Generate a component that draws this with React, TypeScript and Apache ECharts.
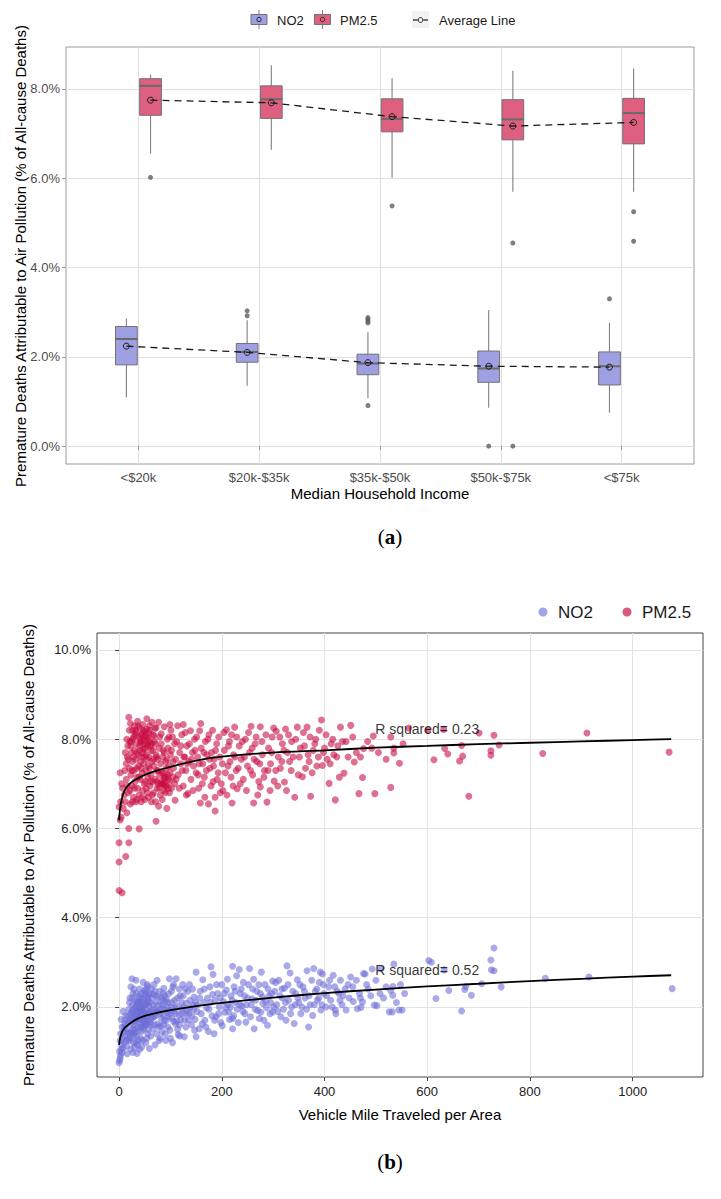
import React, { useEffect, useRef } from 'react';
import * as echarts from 'echarts';

// ---------- Panel (a): box plots by income ----------
const incomeGroups = ['<$20k', '$20k-$35k', '$35k-$50k', '$50k-$75k', '<$75k'];
// [lower whisker, Q1, median, Q3, upper whisker] in %
const no2Box = [
  [1.09, 1.82, 2.40, 2.68, 2.86],
  [1.35, 1.88, 2.11, 2.30, 2.82],
  [1.07, 1.60, 1.85, 2.06, 2.55],
  [0.86, 1.43, 1.74, 2.13, 3.05],
  [0.75, 1.37, 1.79, 2.11, 2.76],
];
const pm25Box = [
  [6.55, 7.41, 8.07, 8.23, 8.32],
  [6.64, 7.34, 7.77, 8.07, 8.53],
  [6.01, 7.04, 7.33, 7.78, 8.24],
  [5.70, 6.86, 7.32, 7.76, 8.41],
  [5.70, 6.77, 7.46, 7.79, 8.46],
];
const no2Mean = [2.24, 2.10, 1.87, 1.79, 1.77];
const pm25Mean = [7.75, 7.69, 7.38, 7.17, 7.25];
// [group index, value]
const no2Outliers = [[1, 3.03], [1, 2.92], [2, 2.88], [2, 2.84], [2, 2.80], [2, 2.76], [2, 0.91], [3, 0.0], [4, 3.30]];
const pm25Outliers = [[0, 6.02], [2, 5.38], [3, 4.55], [3, 0.0], [4, 5.25], [4, 4.59]];
const yTicksA = [0, 2, 4, 6, 8];

// ---------- Panel (b): scatter vs VMT ----------
const no2Points = [
  [0,0.75],[1,0.8],[2,0.85],[3,0.92],[1,1.0],[4,1.05],[6,0.98],[8,1.08],[5,1.15],[2,1.25],[7,1.3],[10,1.2],[3,1.4],[9,1.45],[12,1.35],[6,1.55],[11,1.62],[14,1.5],[4,1.72],[13,1.8],[8,1.9],[15,1.12],[16,0.95],[18,1.28],
  [20,1.42],[22,1.6],[24,1.75],[25,1.9],[26,2.05],[27,1.5],[28,1.2],[30,1.68],[31,1.85],[32,2.15],[33,2.3],[34,1.35],[35,0.96],[36,1.55],[37,1.78],[38,1.95],[39,2.25],[40,2.4],[41,1.62],[42,1.88],[43,2.05],[44,1.45],[45,1.72],[46,1.25],[47,2.0],[48,2.18],[49,1.82],[50,1.58],[51,2.32],[52,1.95],[53,1.7],[54,2.1],[55,2.5],[56,1.4],[57,1.85],[58,2.02],[59,1.07],[60,1.65],
  [21,2.2],[23,2.45],[25,2.63],[29,2.4],[33,2.6],[38,2.1],[44,2.3],[47,2.55],[52,2.4],[56,2.45],[58,2.28],[36,1.15],[42,1.3],[48,1.5],[54,1.3],[30,1.1],[40,1.05],
  [17,1.65],[19,1.95],[20,2.1],[22,1.3],[24,1.45],[26,1.7],[27,2.3],[28,1.85],[29,1.6],[31,1.42],[32,1.75],[34,2.0],[35,1.82],[37,2.12],[39,1.72],[41,1.92],[43,1.58],[45,2.18],[46,1.9],[49,1.65],[50,2.05],[51,1.78],[53,2.25],[55,1.62],[57,2.15],[59,1.88],
  [23,1.05],[27,0.98],[33,1.2],[38,1.25],[44,1.1],[52,1.2],[62,1.35],[70,1.15],[80,1.3],[90,1.4],[100,1.3],[118,1.35],
  [10,1.55],[12,1.7],[14,1.25],[16,1.42],[18,1.8],[20,1.25],[21,1.7],[23,1.85],[25,1.4],[26,2.2],[28,1.95],[29,1.35],[31,2.0],[32,1.5],[34,1.7],[35,2.1],[36,1.9],[37,1.45],[39,2.0],[40,1.75],[41,2.2],[43,1.85],[44,1.95],[45,1.55],[46,2.1],[48,1.72],[49,2.35],[50,1.88],[52,1.62],[53,2.05],[55,1.78],[56,2.2],[57,1.5],[59,2.1],[60,2.3],[62,1.6],[64,1.75],[66,1.95],[68,2.5],[70,1.8],[72,2.25],[75,1.9],[77,1.55],[79,2.35],[82,1.75],[84,2.15],[87,1.6],[89,2.25],[92,1.7],[95,2.1],[98,1.85],[103,2.1],[106,2.5],[110,1.85],[114,1.5],[117,2.4],[120,1.72],[125,2.25],[130,1.85],[137,2.5],[142,1.8],[149,2.1],
  [61,1.72],[63,2.4],[65,1.82],[67,2.28],[69,1.6],[71,2.1],[73,1.88],[76,2.22],[79,1.92],[81,1.58],[83,2.05],[86,1.82],[89,1.95],[92,2.18],[96,1.78],[100,1.92],[102,2.35],[106,1.68],[109,1.98],[114,2.2],[118,1.6],[123,1.85],[126,2.0],[129,2.4],[135,1.7],[139,1.98],[144,2.05],[147,1.48],
  [62,1.9],[64,2.2],[66,1.5],[68,1.78],[70,2.35],[72,1.95],[74,2.6],[75,1.62],[77,2.05],[78,1.25],[80,1.85],[82,2.2],[84,1.45],[85,1.98],[87,2.42],[88,1.7],[90,2.12],[91,1.25],[93,1.88],[95,1.55],[97,2.3],[98,2.63],[99,1.48],[101,2.0],[103,1.75],[105,2.45],[107,1.9],[108,2.15],[110,1.62],[111,2.63],[113,2.02],[115,1.38],[117,1.82],[119,2.25],[121,1.95],[124,2.5],[127,1.33],[128,1.7],[130,1.55],[131,2.08],[134,2.35],[136,1.85],[138,2.15],[141,1.6],[143,2.4],[145,1.95],[148,1.72],[150,1.33],[150,2.78],[66,2.05],[73,1.4],[86,2.3],[94,2.0],[104,1.2],[112,1.68],[122,2.1],[133,1.92],[146,2.22],
  [153,2.05],[156,1.51],[158,2.35],[160,1.85],[163,2.61],[165,2.1],[167,1.7],[169,1.55],[172,2.2],[175,1.95],[177,2.45],[179,2.9],[181,1.8],[183,2.73],[185,1.4],[187,2.15],[189,1.78],[192,2.3],[195,2.0],[198,1.65],[200,2.5],[203,2.12],[206,1.88],[209,2.38],[212,2.05],[215,1.72],[218,2.25],[221,1.51],[221,1.74],[221,2.91],[224,2.45],[227,2.1],[230,1.95],[234,2.84],[236,2.3],[239,2.02],[242,2.55],[245,1.85],[247,1.66],[250,2.2],[254,2.86],[257,2.05],[260,2.4],[263,1.51],[266,2.15],[270,1.92],[273,1.74],[275,2.3],[277,2.78],[280,2.08],[284,2.5],[287,1.98],[289,1.59],[292,2.25],[295,2.1],[299,1.89],[299,2.58],
  [152,1.9],[157,2.2],[162,1.62],[166,2.4],[170,1.98],[174,1.45],[178,2.1],[182,2.28],[186,1.7],[190,2.5],[194,1.85],[197,2.2],[201,1.58],[205,2.3],[208,1.98],[211,2.62],[214,1.88],[217,2.0],[220,2.15],[223,1.8],[226,2.35],[229,2.7],[232,1.65],[235,2.05],[238,2.4],[241,1.9],[244,2.25],[248,2.05],[252,2.5],[256,1.78],[259,2.18],[262,2.62],[265,1.95],[268,2.35],[272,2.5],[276,1.88],[279,2.22],[282,1.7],[286,2.12],[290,2.4],[294,1.85],[297,2.3],
  [301,2.0],[305,2.55],[309,1.9],[313,2.25],[317,2.4],[320,1.95],[324,2.1],[329,2.5],[334,1.85],[338,2.35],[343,2.05],[348,2.2],[352,2.5],[356,2.0],[361,2.35],[365,1.95],[370,2.25],[375,2.6],[380,2.05],[385,2.4],[389,2.2],[395,2.05],[398,2.5],[404,2.25],[410,2.6],[415,2.0],[420,2.45],[428,2.3],[434,2.05],[440,2.4],[448,2.2],[455,2.45],[462,2.6],[470,2.2],[482,2.5],[490,2.25],[500,2.6],[520,2.45],[548,2.5],[556,2.3],
  [303,2.35],[307,2.05],[311,2.6],[315,1.78],[318,2.2],[322,2.42],[325,1.7],[327,2.92],[330,2.15],[333,2.76],[336,2.0],[341,1.63],[344,2.3],[347,2.61],[350,2.1],[354,1.85],[358,2.45],[362,2.2],[366,2.81],[369,1.55],[372,2.05],[377,1.81],[379,2.86],[382,2.35],[386,2.15],[390,2.55],[392,2.78],[393,1.93],[396,2.74],[399,2.3],[403,2.0],[408,2.45],[412,2.15],[417,2.71],[421,1.93],[422,1.85],[425,2.35],[430,2.15],[431,2.6],[436,2.25],[442,1.93],[446,2.5],[451,2.67],[456,2.12],[464,1.96],[468,2.3],[471,1.99],[474,2.11],[476,2.75],[479,2.74],[485,2.4],[493,2.85],[497,2.04],[502,2.03],[508,2.3],[510,2.86],[515,2.2],[526,1.89],[529,2.37],[532,1.89],[533,2.26],[533,2.46],[535,2.96],[540,2.1],[545,1.93],[551,1.93],
  [603,3.04],[608,3.0],[617,2.19],[633,2.83],[642,2.37],[667,1.91],[673,2.39],[675,2.46],[686,2.26],[706,2.52],[724,3.05],[725,2.83],[730,3.32],[730,2.81],[744,2.45],[830,2.64],[915,2.67],[1077,2.41],
];
const pm25Points = [
  [0,4.61],[6,4.56],[0,5.25],[0,5.68],[19,5.68],[13,5.37],[19,6.0],[39,5.99],[72,6.16],[0,6.48],[2,6.19],[4,6.25],[8,6.45],[3,6.6],[10,6.75],[5,7.0],[2,7.25],[7,6.9],[12,6.6],[15,6.35],[11,7.3],
  [19,8.49],[22,8.35],[26,8.2],[28,8.05],[30,8.3],[33,8.15],[36,8.4],[40,8.25],[43,8.1],[46,8.33],[50,8.18],[54,8.46],[57,8.0],[60,8.2],[64,8.38],[68,8.08],[72,8.25],[77,8.38],[82,8.12],[88,8.28],[94,8.0],[99,8.33],
  [14,7.1],[16,7.6],[17,7.85],[18,6.8],[20,7.35],[21,7.95],[22,6.55],[23,7.2],[24,7.7],[25,6.95],[26,7.5],[27,8.0],[28,6.7],[29,7.3],[30,7.75],[31,7.05],[32,7.55],[33,6.6],[34,7.9],[35,7.15],[36,6.9],[37,7.65],[38,7.4],[39,6.75],[40,7.85],[41,7.1],[42,7.5],[43,6.6],[44,7.95],[45,7.25],[46,6.85],[47,7.7],[48,7.45],[49,7.0],[50,6.65],[51,7.8],[52,7.3],[53,6.9],[54,7.55],[55,8.05],[56,7.15],[57,6.7],[58,7.6],[59,7.35],[60,6.95],[61,7.85],[62,7.2],[63,6.6],[64,7.5],[65,7.05],[66,7.75],[67,6.8],[68,7.4],[69,7.95],[70,7.1],[71,6.6],[72,7.65],[73,7.3],[74,6.9],[75,7.55],[76,7.0],[77,6.5],[78,7.8],[79,7.2],[80,6.75],[81,7.45],[82,7.9],[83,7.05],[84,6.65],[85,7.6],[86,7.25],[87,6.85],[88,7.7],[89,7.15],[90,6.95],[91,7.5],[92,7.35],[93,6.45],[95,7.8],[96,7.1],[97,7.4],[98,6.8],[100,7.65],
  [38,8.05],[42,7.92],[45,8.12],[48,7.98],[52,8.08],[55,7.85],[58,8.15],[47,7.78],[50,7.9],[53,8.22],[60,7.95],[85,7.0],[88,7.12],[92,6.95],[95,7.2],[98,7.05],[102,6.9],[105,7.15],[108,7.0],
  [24,7.95],[31,8.1],[35,7.7],[41,8.0],[44,7.6],[49,8.05],[56,7.9],[62,7.75],[66,8.1],[70,7.9],[74,7.05],[78,6.9],[83,7.25],[87,7.0],[91,7.15],[96,6.9],
  [12,7.7],[14,7.45],[15,8.0],[16,6.95],[18,7.55],[20,8.2],[21,6.85],[23,7.85],[25,7.3],[26,6.6],[28,7.6],[30,6.9],[32,8.2],[34,7.35],[35,6.65],[37,8.3],[39,7.15],[41,7.75],[43,7.35],[45,6.7],[47,8.2],[49,7.6],[51,7.05],[53,7.65],[55,6.8],[57,7.4],[59,8.3],[61,7.05],[63,7.9],[65,6.75],[67,7.55],[70,8.25],[73,7.6],[76,7.3],[79,8.05],[82,7.0],[86,7.75],[90,6.8],[93,7.55],[97,8.05],[99,7.25],
  [102,7.75],[104,8.05],[106,7.35],[109,6.63],[110,7.55],[112,7.95],[115,7.2],[118,7.7],[120,7.45],[122,8.1],[125,8.33],[125,6.95],[128,7.6],[130,7.3],[132,7.85],[134,6.78],[136,7.5],[139,8.19],[140,7.1],[143,7.7],[145,7.4],[147,8.0],[150,7.25],[153,7.6],[155,6.9],[157,8.19],[158,6.57],[160,7.8],[163,7.45],[166,7.15],[168,7.95],[171,7.65],[174,6.55],[175,8.1],[177,7.35],[180,7.7],[183,7.05],[185,7.55],[187,6.39],[187,6.7],[190,7.9],[193,7.25],[196,7.6],[199,7.0],
  [101,8.2],[105,7.5],[108,7.9],[111,7.1],[114,8.3],[117,6.9],[120,7.85],[123,7.3],[126,7.6],[129,8.15],[131,6.75],[133,7.45],[137,7.9],[141,7.55],[144,6.85],[148,7.75],[151,8.05],[154,7.2],[156,7.45],[159,8.35],[162,7.0],[165,7.7],[167,6.7],[170,7.3],[173,8.0],[176,7.55],[179,6.95],[182,8.2],[184,7.4],[188,7.75],[191,7.1],[194,8.05],[197,6.8],
  [201,7.45],[204,8.15],[207,7.25],[210,6.75],[213,7.85],[216,7.5],[219,8.1],[222,6.95],[226,7.6],[229,8.05],[232,7.35],[236,7.0],[240,7.95],[244,7.6],[248,6.85],[252,8.15],[256,7.3],[259,7.8],[263,7.55],[267,8.05],[270,6.75],[274,7.45],[278,7.95],[282,7.15],[286,8.1],[290,7.3],[294,6.85],[297,7.7],
  [301,8.25],[305,7.3],[309,6.95],[313,8.05],[317,7.5],[321,7.75],[326,6.85],[330,8.1],[335,7.3],[339,7.6],[344,8.0],[349,7.2],[353,7.8],[359,8.15],[363,7.35],[368,7.65],[372,8.05],[376,7.25],[381,7.9],[385,7.4],[390,8.2],[398,7.7],[403,8.1],[411,7.45],[416,8.0],[424,7.6],[429,7.15],[435,7.95],[446,7.6],[455,8.05],[470,7.6],[484,7.95],[505,7.7],[520,7.55],[553,7.9],
  [202,6.85],[205,7.75],[209,8.21],[212,7.4],[215,7.95],[218,7.15],[220,6.57],[223,7.65],[225,8.27],[228,7.3],[230,6.89],[234,7.85],[238,7.55],[242,7.1],[246,8.0],[250,7.4],[254,7.7],[257,8.29],[260,7.2],[262,6.57],[265,7.9],[268,7.5],[272,7.05],[275,8.28],[275,6.93],[279,7.65],[283,7.3],[288,6.59],[291,7.8],[295,7.45],[298,8.05],[302,7.06],[306,8.18],[310,7.6],[314,7.35],[318,7.9],[322,7.04],[324,8.23],[328,7.7],[332,7.5],[336,7.95],[342,6.7],[347,8.27],[351,7.6],[357,7.16],[361,7.85],[366,8.27],[370,7.5],[373,6.72],[378,7.75],[383,8.0],[388,7.6],[394,8.43],[396,7.41],[400,7.8],[405,7.55],[409,7.01],[413,7.9],[418,7.65],[421,6.64],[426,7.85],[431,8.27],[438,7.24],[442,7.95],[451,8.31],[458,7.49],[462,7.7],[467,6.78],
  [474,7.14],[476,7.79],[492,7.8],[495,8.07],[498,6.78],[529,8.05],[529,6.92],[535,7.8],[535,7.69],[546,7.46],[564,8.25],[601,8.2],[613,7.54],[632,8.22],[634,7.79],[640,7.67],[663,7.51],[667,7.86],[669,7.62],[681,6.72],[701,8.14],[724,7.74],[724,7.64],[730,8.09],[740,7.87],[825,7.68],[911,8.14],[1071,7.71],
];
const fitPm25 = [[0,6.18],[2,6.45],[5,6.65],[10,6.83],[20,7.0],[30,7.08],[50,7.2],[75,7.3],[100,7.38],[150,7.52],[200,7.61],[300,7.7],[400,7.75],[500,7.81],[600,7.85],[700,7.89],[800,7.92],[900,7.95],[1000,7.98],[1075,8.0]];
const fitNo2 = [[0,1.15],[2,1.3],[5,1.42],[10,1.52],[20,1.62],[30,1.7],[50,1.8],[75,1.87],[100,1.93],[150,2.02],[200,2.09],[300,2.21],[400,2.31],[500,2.39],[600,2.46],[700,2.52],[800,2.58],[900,2.63],[1000,2.68],[1075,2.71]];
const rSquaredLabels = [
  { x: 600, y: 8.22, text: 'R squared= 0.23' },
  { x: 600, y: 2.83, text: 'R squared= 0.52' },
];
const xTicksB = [0, 200, 400, 600, 800, 1000];
const yTicksB = [2, 4, 6, 8, 10];

const NO2_BOX = '#9f9fe3';
const PM_BOX = '#de5f7f';
const FONT = 'Liberation Sans, Arial, sans-serif';

function boxRenderer(fill: string) {
  return (params: any, api: any) => {
    const x = api.value(0);
    const lo = api.coord([x, api.value(1)]);
    const q1 = api.coord([x, api.value(2)]);
    const med = api.coord([x, api.value(3)]);
    const q3 = api.coord([x, api.value(4)]);
    const hi = api.coord([x, api.value(5)]);
    const hw = api.size([0.18, 0])[0] / 2;
    const cx = lo[0];
    return {
      type: 'group',
      children: [
        { type: 'line', shape: { x1: cx, y1: hi[1], x2: cx, y2: lo[1] }, style: { stroke: '#808080', lineWidth: 1.1 } },
        { type: 'rect', shape: { x: cx - hw, y: q3[1], width: hw * 2, height: q1[1] - q3[1] }, style: { fill, stroke: '#727272', lineWidth: 1 } },
        { type: 'line', shape: { x1: cx - hw, y1: med[1], x2: cx + hw, y2: med[1] }, style: { stroke: '#6a6a6a', lineWidth: 2 } },
      ],
    };
  };
}

function fmtPct(v: number) {
  const r = Math.abs(v) < 1e-9 ? 0 : v;
  return r.toFixed(1) + '%';
}

export default function App() {
  const ref = useRef<HTMLDivElement>(null);
  useEffect(() => {
    const chart = echarts.init(ref.current!, null, { renderer: 'svg' });
    const meanSeries = (data: number[], offset: number) => ({
      type: 'line',
      xAxisIndex: 0,
      yAxisIndex: 0,
      data: data.map((m, i) => [i + 1 + offset, m]),
      symbol: 'circle',
      symbolSize: 6,
      showSymbol: true,
      silent: true,
      z: 6,
      itemStyle: { color: 'rgba(0,0,0,0)', borderColor: '#1a1a1a', borderWidth: 1 },
      lineStyle: { color: '#1a1a1a', width: 1.3, type: [7, 5] },
    });
    const legendBox = (cx: number, fill: string) => [
      { type: 'line', shape: { x1: cx, y1: 10, x2: cx, y2: 29 }, style: { stroke: '#808080', lineWidth: 1 } },
      { type: 'rect', shape: { x: cx - 8, y: 14.5, width: 16, height: 10 }, style: { fill, stroke: '#727272', lineWidth: 1 } },
      { type: 'circle', shape: { cx, cy: 19.5, r: 2.2 }, style: { fill: 'none', stroke: '#222', lineWidth: 1 } },
    ];
    const serifRich = {
      n: { fontSize: 21, fontFamily: 'Liberation Serif, serif', fill: '#000' },
      b: { fontSize: 21, fontWeight: 'bold', fontFamily: 'Liberation Serif, serif', fill: '#000' },
    };
    const option: any = {
      animation: false,
      backgroundColor: '#ffffff',
      textStyle: { fontFamily: FONT },
      grid: [
        { left: 66, top: 47, width: 628, height: 417, show: true, borderColor: '#9a9a9a', borderWidth: 1, backgroundColor: 'transparent' },
        { left: 97, top: 633, width: 606, height: 444, show: true, borderColor: '#444', borderWidth: 1, backgroundColor: 'transparent' },
      ],
      xAxis: [
        {
          type: 'value', gridIndex: 0, min: 0.4, max: 5.6,
          axisLine: { show: false },
          axisTick: { show: true, length: 4, lineStyle: { color: '#9a9a9a' }, customValues: [1, 2, 3, 4, 5] },
          axisLabel: {
            customValues: [1, 2, 3, 4, 5], margin: 7, color: '#4d4d4d', fontSize: 13, fontFamily: FONT,
            formatter: (v: number) => (Math.abs(v - Math.round(v)) < 1e-6 ? incomeGroups[Math.round(v) - 1] || '' : ''),
          },
          splitLine: { show: true, lineStyle: { color: '#e0e0e0', width: 1 } },
        },
        {
          type: 'value', gridIndex: 1, min: -43, max: 1137,
          axisLine: { show: false },
          axisTick: { show: true, length: 4, lineStyle: { color: '#444' }, customValues: xTicksB },
          axisLabel: {
            customValues: xTicksB, margin: 8, color: '#222', fontSize: 13, fontFamily: FONT,
            formatter: (v: number) => (xTicksB.indexOf(v) >= 0 ? String(v) : ''),
          },
          splitLine: { show: true, lineStyle: { color: '#e3e3e3', width: 1 } },
        },
      ],
      yAxis: [
        {
          type: 'value', gridIndex: 0, min: -0.4, max: 8.94,
          axisLine: { show: false },
          axisTick: { show: true, length: 4, lineStyle: { color: '#9a9a9a' }, customValues: yTicksA },
          axisLabel: {
            customValues: yTicksA, margin: 6, color: '#4d4d4d', fontSize: 13, fontFamily: FONT,
            formatter: (v: number) => (yTicksA.some((t) => Math.abs(t - v) < 1e-6) ? fmtPct(v) : ''),
          },
          splitLine: { show: true, lineStyle: { color: '#e0e0e0', width: 1 } },
        },
        {
          type: 'value', gridIndex: 1, min: 0.43, max: 10.38,
          axisLine: { show: false },
          axisTick: { show: true, length: 4, lineStyle: { color: '#444' }, customValues: yTicksB },
          axisLabel: {
            customValues: yTicksB, margin: 6, color: '#222', fontSize: 13, fontFamily: FONT,
            formatter: (v: number) => (yTicksB.some((t) => Math.abs(t - v) < 1e-6) ? fmtPct(v) : ''),
          },
          splitLine: { show: true, lineStyle: { color: '#e3e3e3', width: 1 } },
        },
      ],
      series: [
        {
          type: 'custom', xAxisIndex: 0, yAxisIndex: 0, silent: true, z: 2,
          renderItem: boxRenderer(NO2_BOX),
          encode: { x: 0, y: [1, 2, 3, 4, 5] },
          data: no2Box.map((b, i) => [i + 1 - 0.1, ...b]),
        },
        {
          type: 'custom', xAxisIndex: 0, yAxisIndex: 0, silent: true, z: 2,
          renderItem: boxRenderer(PM_BOX),
          encode: { x: 0, y: [1, 2, 3, 4, 5] },
          data: pm25Box.map((b, i) => [i + 1 + 0.1, ...b]),
        },
        {
          type: 'scatter', xAxisIndex: 0, yAxisIndex: 0, silent: true, z: 3, symbolSize: 5,
          itemStyle: { color: '#5e5e5e' },
          data: [
            ...no2Outliers.map(([g, v]) => [g + 1 - 0.1, v]),
            ...pm25Outliers.map(([g, v]) => [g + 1 + 0.1, v]),
          ],
        },
        meanSeries(no2Mean, -0.1),
        meanSeries(pm25Mean, 0.1),
        {
          type: 'scatter', xAxisIndex: 1, yAxisIndex: 1, silent: true, symbolSize: 7, z: 2,
          itemStyle: { color: '#6d6dd8', opacity: 0.58 },
          data: no2Points,
        },
        {
          type: 'scatter', xAxisIndex: 1, yAxisIndex: 1, silent: true, symbolSize: 7, z: 2,
          itemStyle: { color: '#c80a40', opacity: 0.58 },
          data: pm25Points,
        },
        {
          type: 'line', xAxisIndex: 1, yAxisIndex: 1, silent: true, smooth: 0.3, showSymbol: false, z: 4,
          lineStyle: { color: '#000', width: 1.8 }, data: fitPm25,
        },
        {
          type: 'line', xAxisIndex: 1, yAxisIndex: 1, silent: true, smooth: 0.3, showSymbol: false, z: 4,
          lineStyle: { color: '#000', width: 1.8 }, data: fitNo2,
        },
        {
          type: 'scatter', xAxisIndex: 1, yAxisIndex: 1, silent: true, symbolSize: 0, z: 5,
          data: rSquaredLabels.map((r) => ({ value: [r.x, r.y], label: { show: true, formatter: r.text } })),
          label: { show: true, position: 'inside', color: '#000', fontSize: 14, fontFamily: FONT },
        },
      ],
      graphic: [
        // legend (a)
        ...legendBox(259, NO2_BOX),
        { type: 'text', x: 277, y: 20, style: { text: 'NO2', fontSize: 13, fontFamily: FONT, fill: '#1a1a1a', verticalAlign: 'middle' } },
        ...legendBox(322.5, PM_BOX),
        { type: 'text', x: 340, y: 20, style: { text: 'PM2.5', fontSize: 13, fontFamily: FONT, fill: '#1a1a1a', verticalAlign: 'middle' } },
        { type: 'rect', shape: { x: 412, y: 11, width: 17, height: 17 }, style: { fill: '#f2f2f2' } },
        { type: 'line', shape: { x1: 413, y1: 20, x2: 417.5, y2: 20 }, style: { stroke: '#1a1a1a', lineWidth: 1.2 } },
        { type: 'line', shape: { x1: 423.5, y1: 20, x2: 428, y2: 20 }, style: { stroke: '#1a1a1a', lineWidth: 1.2 } },
        { type: 'circle', shape: { cx: 420.5, cy: 20, r: 2.4 }, style: { fill: 'none', stroke: '#1a1a1a', lineWidth: 1 } },
        { type: 'text', x: 439, y: 20, style: { text: 'Average Line', fontSize: 13, fontFamily: FONT, fill: '#1a1a1a', verticalAlign: 'middle' } },
        // axis titles (a)
        { type: 'text', x: 20, y: 256, rotation: Math.PI / 2, style: { text: 'Premature Deaths Attributable to Air Pollution (% of All-cause Deaths)', fontSize: 15, fontFamily: FONT, fill: '#000', align: 'center', verticalAlign: 'middle' } },
        { type: 'text', x: 380, y: 493, style: { text: 'Median Household Income', fontSize: 15, fontFamily: FONT, fill: '#000', align: 'center', verticalAlign: 'middle' } },
        { type: 'text', x: 390, y: 537, style: { text: '{n|(}{b|a}{n|)}', align: 'center', verticalAlign: 'middle', rich: serifRich } },
        // legend (b)
        { type: 'circle', shape: { cx: 543, cy: 612, r: 4.5 }, style: { fill: '#a3a3e6' } },
        { type: 'text', x: 558, y: 612, style: { text: 'NO2', fontSize: 17, fontFamily: FONT, fill: '#1a1a1a', verticalAlign: 'middle' } },
        { type: 'circle', shape: { cx: 627, cy: 612, r: 4.5 }, style: { fill: '#d95a7e' } },
        { type: 'text', x: 642, y: 612, style: { text: 'PM2.5', fontSize: 17, fontFamily: FONT, fill: '#1a1a1a', verticalAlign: 'middle' } },
        // axis titles (b)
        { type: 'text', x: 28, y: 855, rotation: Math.PI / 2, style: { text: 'Premature Deaths Attributable to Air Pollution (% of All-cause Deaths)', fontSize: 15, fontFamily: FONT, fill: '#000', align: 'center', verticalAlign: 'middle' } },
        { type: 'text', x: 400, y: 1114, style: { text: 'Vehicle Mile Traveled per Area', fontSize: 15, fontFamily: FONT, fill: '#000', align: 'center', verticalAlign: 'middle' } },
        { type: 'text', x: 390, y: 1162, style: { text: '{n|(}{b|b}{n|)}', align: 'center', verticalAlign: 'middle', rich: serifRich } },
      ],
    };
    chart.setOption(option);
    return () => chart.dispose();
  }, []);
  return <div ref={ref} style={{ position: 'fixed', left: 0, top: 0, width: 721, height: 1199, background: '#fff' }} />;
}
